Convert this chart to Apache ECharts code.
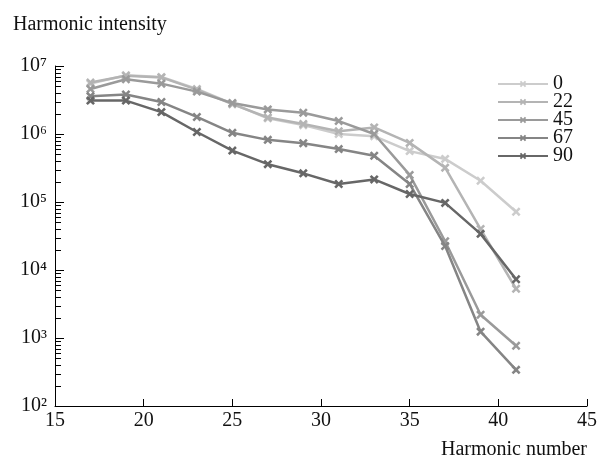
<!DOCTYPE html>
<html><head><meta charset="utf-8">
<script src="https://cdn.jsdelivr.net/npm/echarts@6/dist/echarts.min.js"></script>
<style>html,body{margin:0;padding:0;background:#fff}#c{width:600px;height:464px}</style>
</head><body><div id="c"></div>
<script>
const harmonics = [17,19,21,23,25,27,29,31,33,35,37,39,41];
const seriesNames = ['0','22','45','67','90'];
const s0  = [5.5e6,7.3e6,6.9e6,4.6e6,2.8e6,1.7e6,1.35e6,1.0e6,9.3e5,5.6e5,4.3e5,2.05e5,7.2e4];
const s22 = [5.7e6,7.2e6,6.8e6,4.5e6,2.75e6,1.75e6,1.4e6,1.1e6,1.25e6,7.4e5,3.2e5,4.0e4,5.3e3];
const s45 = [4.6e6,6.4e6,5.5e6,4.2e6,2.85e6,2.3e6,2.05e6,1.55e6,1.0e6,2.5e5,2.65e4,2.2e3,770];
const s67 = [3.6e6,3.8e6,2.95e6,1.78e6,1.04e6,8.2e5,7.3e5,6.0e5,4.8e5,1.84e5,2.25e4,1.24e3,340];
const s90 = [3.1e6,3.1e6,2.1e6,1.07e6,5.7e5,3.6e5,2.64e5,1.84e5,2.15e5,1.31e5,9.7e4,3.4e4,7.3e3];
const xTicks = [15,20,25,30,35,40,45];
const yMin = 1e2, yMax = 1e7;
const minorMult = [2,3,4,5,6,7,8,9];
const decades = [1e2,1e3,1e4,1e5,1e6,1e7];
const supDigits = {'2':'\u00B2','3':'\u00B3','4':'\u2074','5':'\u2075','6':'\u2076','7':'\u2077'};

const colors = ['#cccccc','#b4b4b4','#9a9a9a','#858585','#676767'];
const allData = [s0,s22,s45,s67,s90];
const xSym = 'path://M2,0 L5,3 L8,0 L10,2 L7,5 L10,8 L8,10 L5,7 L2,10 L0,8 L3,5 L0,2 Z';
const font = 'Liberation Serif';

const minorTickValues = [];
decades.slice(0, -1).forEach(d => minorMult.forEach(m => minorTickValues.push(d*m)));

const series = seriesNames.map((n,i) => ({
  name: n, type: 'line',
  data: harmonics.map((h,j) => [h, allData[i][j]]),
  symbol: xSym, symbolSize: 9,
  lineStyle: {color: colors[i], width: 2.5},
  itemStyle: {color: colors[i]},
  z: 2 + i
}));

const chart = echarts.init(document.getElementById('c'), null, {renderer:'canvas'});
try {
chart.setOption({
  animation: false,
  backgroundColor: '#fff',
  grid: {left: 55, right: 12, top: 66, bottom: 58},
  title: {text: 'Harmonic intensity', left: 8, top: 10,
    textStyle: {fontFamily: font, fontSize: 20, fontWeight: 'normal', color: '#111'}},
  legend: {
    data: seriesNames, orient: 'vertical', left: 497, top: 74, padding: 0,
    itemWidth: 50, itemHeight: 8, itemGap: -2,
    textStyle: {fontFamily: font, fontSize: 20, color: '#111'}
  },
  xAxis: {
    type: 'value', min: 15, max: 45, interval: 5,
    name: 'Harmonic number', nameLocation: 'end', nameGap: 0,
    nameTextStyle: {fontFamily: font, fontSize: 20, color: '#111', align: 'right', verticalAlign: 'top', padding: [34, 0, 0, 0]},
    axisLine: {lineStyle: {color: '#000', width: 1}},
    axisTick: {inside: true, length: 7, lineStyle: {color: '#000'}},
    axisLabel: {fontFamily: font, fontSize: 20, color: '#111', margin: 5},
    splitLine: {show: false}
  },
  yAxis: {
    type: 'log', logBase: 10, min: yMin, max: yMax,
    axisLine: {show: true, lineStyle: {color: '#000', width: 1}},
    axisTick: {show: true, inside: true, length: 9, lineStyle: {color: '#000', width: 1}},
    axisLabel: {
      margin: 8, fontFamily: font, fontSize: 20, color: '#111',
      formatter: v => '10' + String(Math.round(Math.log10(v))).split('').map(c => supDigits[c] || c).join('')
    },
    splitLine: {show: false}
  },
  series: series
});
} catch (e) { console.error(e); }

// major and minor log ticks placed through the axis scale
try {
  const x0 = chart.convertToPixel({xAxisIndex: 0}, xTicks[0]);
  const g = [];
  minorTickValues.forEach(v => {
    const y = Math.round(chart.convertToPixel({yAxisIndex: 0}, v)) + 0.5;
    g.push({type: 'line', shape: {x1: x0, y1: y, x2: x0 + 6, y2: y}, style: {stroke: '#000', lineWidth: 1}, z: 10});
  });
  decades.forEach(v => {
    const y = Math.round(chart.convertToPixel({yAxisIndex: 0}, v)) + 0.5;
    g.push({type: 'line', shape: {x1: x0, y1: y, x2: x0 + 9, y2: y}, style: {stroke: '#000', lineWidth: 1}, z: 10});
  });
  chart.setOption({graphic: g});
} catch (e) { console.error(e); }
</script></body></html>
